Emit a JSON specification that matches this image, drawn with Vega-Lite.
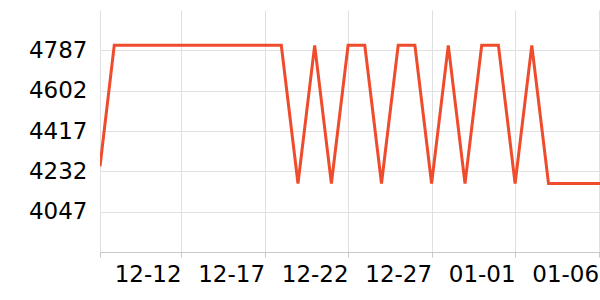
{
  "$schema": "https://vega.github.io/schema/vega-lite/v6.json",
  "width": 500,
  "height": 242,
  "autosize": "none",
  "padding": {"left": 100, "top": 10, "right": 0, "bottom": 48},
  "background": "white",
  "config": {"view": {"stroke": null}},
  "data": {
    "values": [
      {"date": "2023-12-07T03:30:00Z", "value": 4255},
      {"date": "2023-12-08T00:00:00Z", "value": 4810},
      {"date": "2023-12-09T00:00:00Z", "value": 4810},
      {"date": "2023-12-10T00:00:00Z", "value": 4810},
      {"date": "2023-12-11T00:00:00Z", "value": 4810},
      {"date": "2023-12-12T00:00:00Z", "value": 4810},
      {"date": "2023-12-13T00:00:00Z", "value": 4810},
      {"date": "2023-12-14T00:00:00Z", "value": 4810},
      {"date": "2023-12-15T00:00:00Z", "value": 4810},
      {"date": "2023-12-16T00:00:00Z", "value": 4810},
      {"date": "2023-12-17T00:00:00Z", "value": 4810},
      {"date": "2023-12-18T00:00:00Z", "value": 4810},
      {"date": "2023-12-19T00:00:00Z", "value": 4176},
      {"date": "2023-12-20T00:00:00Z", "value": 4810},
      {"date": "2023-12-21T00:00:00Z", "value": 4176},
      {"date": "2023-12-22T00:00:00Z", "value": 4810},
      {"date": "2023-12-23T00:00:00Z", "value": 4810},
      {"date": "2023-12-24T00:00:00Z", "value": 4176},
      {"date": "2023-12-25T00:00:00Z", "value": 4810},
      {"date": "2023-12-26T00:00:00Z", "value": 4810},
      {"date": "2023-12-27T00:00:00Z", "value": 4176},
      {"date": "2023-12-28T00:00:00Z", "value": 4810},
      {"date": "2023-12-29T00:00:00Z", "value": 4176},
      {"date": "2023-12-30T00:00:00Z", "value": 4810},
      {"date": "2023-12-31T00:00:00Z", "value": 4810},
      {"date": "2024-01-01T00:00:00Z", "value": 4176},
      {"date": "2024-01-02T00:00:00Z", "value": 4810},
      {"date": "2024-01-03T00:00:00Z", "value": 4176},
      {"date": "2024-01-04T00:00:00Z", "value": 4176},
      {"date": "2024-01-05T00:00:00Z", "value": 4176},
      {"date": "2024-01-06T00:00:00Z", "value": 4176},
      {"date": "2024-01-07T00:00:00Z", "value": 4176}
    ]
  },
  "mark": {"type": "line", "color": "#ee4c2c", "strokeWidth": 3, "clip": true, "interpolate": "linear"},
  "encoding": {
    "x": {
      "field": "date",
      "type": "temporal",
      "scale": {
        "type": "utc",
        "domain": [
          {"year": 2023, "month": 12, "date": 7, "hours": 3, "minutes": 30, "utc": true},
          {"year": 2024, "month": 1, "date": 6, "hours": 2, "utc": true}
        ]
      },
      "axis": {
        "title": null,
        "values": [
          {"year": 2023, "month": 12, "date": 7, "hours": 3, "minutes": 30, "utc": true},
          {"year": 2023, "month": 12, "date": 12, "utc": true},
          {"year": 2023, "month": 12, "date": 17, "utc": true},
          {"year": 2023, "month": 12, "date": 22, "utc": true},
          {"year": 2023, "month": 12, "date": 27, "utc": true},
          {"year": 2024, "month": 1, "date": 1, "utc": true},
          {"year": 2024, "month": 1, "date": 6, "utc": true}
        ],
        "labelExpr": "datum.index === 0 ? '' : utcFormat(datum.value, '%m-%d')",
        "labelAlign": "right",
        "labelBaseline": "top",
        "labelPadding": 6,
        "labelFont": "DejaVu Sans",
        "labelFontSize": 23,
        "labelColor": "#000000",
        "labelOverlap": false,
        "labelFlush": false,
        "labelBound": false,
        "ticks": true,
        "tickSize": 5,
        "tickColor": "#c8c8c8",
        "domain": true,
        "domainColor": "#c8c8c8",
        "domainWidth": 1,
        "grid": true,
        "gridColor": "#e0e0e0",
        "gridWidth": 1
      }
    },
    "y": {
      "field": "value",
      "type": "quantitative",
      "scale": {"domain": [3862, 4972], "nice": false, "zero": false},
      "axis": {
        "title": null,
        "values": [4047, 4232, 4417, 4602, 4787],
        "format": "d",
        "labelFont": "DejaVu Sans",
        "labelFontSize": 23,
        "labelColor": "#000000",
        "labelPadding": 13,
        "labelBaseline": "middle",
        "ticks": false,
        "domain": false,
        "grid": true,
        "gridColor": "#e0e0e0",
        "gridWidth": 1
      }
    }
  }
}
